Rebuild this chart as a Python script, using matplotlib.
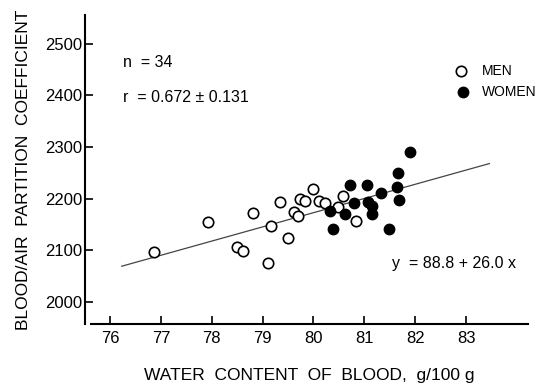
import matplotlib
matplotlib.use("Agg")
import matplotlib.pyplot as plt

# Данные
men_x = [76.87, 77.92, 78.81, 78.50, 78.62, 79.11, 79.16, 79.34, 79.50, 79.62,
         79.69, 79.73, 79.84, 80.00, 80.10, 80.22, 80.49, 80.59, 80.83]
men_y = [2096, 2155, 2173, 2107, 2099, 2076, 2147, 2193, 2124, 2174,
         2166, 2200, 2196, 2218, 2196, 2191, 2183, 2205, 2157]

women_x = [80.71, 81.06, 81.32, 81.67, 81.64, 81.69, 80.80, 81.08, 81.16, 81.15,
           80.33, 80.62, 80.38, 81.49, 81.90]
women_y = [2226, 2226, 2211, 2249, 2223, 2197, 2192, 2194, 2186, 2170,
           2177, 2170, 2142, 2141, 2291]

# Линия регрессии (концы)
fit_x = [76.23, 83.46]
fit_y = [2069, 2268]

x_ticks = [76, 77, 78, 79, 80, 81, 82, 83]
y_ticks = [2000, 2100, 2200, 2300, 2400, 2500]

plt.rcParams["font.family"] = ["Liberation Sans Narrow", "Liberation Sans", "DejaVu Sans"]

fig = plt.figure(figsize=(5.35, 3.89), dpi=100)
W, H = 535, 389
ax = fig.add_axes([91 / W, (H - 324) / H, (528 - 91) / W, (324 - 15) / H])

ax.plot(fit_x, fit_y, color="#444444", lw=0.9, zorder=1)
ax.plot(men_x, men_y, "o", ms=7.5, mfc="white", mec="black", mew=1.2, zorder=2)
ax.plot(women_x, women_y, "o", ms=7.5, mfc="black", mec="black", zorder=3)

ax.set_xlim(75.626, 84.219)
ax.set_ylim(1957, 2556)
ax.set_xticks(x_ticks)
ax.set_yticks(y_ticks)

for s in ["top", "right"]:
    ax.spines[s].set_visible(False)
ax.spines["left"].set_position(("outward", 4.3))
ax.spines["left"].set_linewidth(1.5)
ax.spines["bottom"].set_linewidth(1.5)
ax.tick_params(direction="in", length=5.5, width=1.2, labelsize=12)
ax.tick_params(axis="y", pad=2)
ax.tick_params(axis="x", pad=5)

ax.text(76.26, 2463, "n  = 34", fontsize=11.5, va="center")
ax.text(76.26, 2397, "r  = 0.672 \u00b1 0.131", fontsize=11.5, va="center")
ax.text(81.54, 2074, "y  = 88.8 + 26.0 x", fontsize=11.5, va="center")

# Легенда вручную
ax.plot([82.91], [2448], "o", ms=7.5, mfc="white", mec="black", mew=1.2, clip_on=False)
ax.plot([82.95], [2407], "o", ms=7.5, mfc="black", mec="black", clip_on=False)
ax.text(83.31, 2448, "MEN", fontsize=10, va="center")
ax.text(83.31, 2407, "WOMEN", fontsize=10, va="center")

ax.set_xlabel("WATER  CONTENT  OF  BLOOD,  g/100 g", fontsize=12.5, labelpad=16)
ax.set_ylabel("BLOOD/AIR  PARTITION  COEFFICIENT", fontsize=12.5, labelpad=10)

fig.savefig("out.png", dpi=100)
